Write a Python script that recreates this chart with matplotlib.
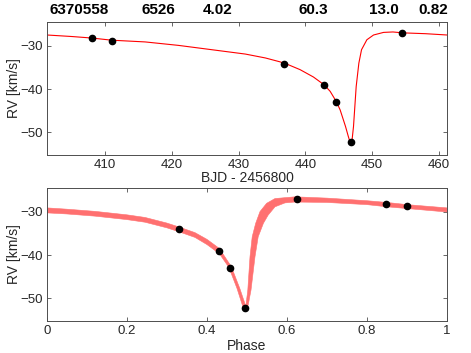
import matplotlib
matplotlib.use("Agg")
import matplotlib.pyplot as plt
import numpy as np

plt.rcParams['font.family'] = ['Liberation Sans', 'DejaVu Sans']

# fitted parameters printed above the top panel
param_labels = ["6370558", "6526", "4.02", "60.3", "13.0", "0.82"]
param_x = [79, 158, 218, 313, 384, 433]   # pixel centres

# observed radial velocities
obs_bjd = [408.0, 411.1, 436.8, 442.8, 444.6, 446.8, 454.5]
obs_rv = [-28.3, -28.8, -34.1, -39.1, -42.9, -52.3, -27.0]
obs_phase = [0.848, 0.899, 0.330, 0.431, 0.458, 0.495, 0.626]

# model curve
model_bjd = [401.3, 405.0, 408.0, 411.0, 416.0, 421.0, 426.0, 431.0, 434.0,
             436.2, 437.5, 439.2, 441.2, 442.8, 443.7, 444.6, 445.2, 446.0,
             446.4, 446.75, 447.0, 447.2, 447.4, 447.6, 448.0, 448.4, 449.2,
             450.2, 451.7, 453.1, 454.5, 458.0, 461.2]
model_rv = [-27.5, -27.85, -28.2, -28.7, -29.1, -29.9, -30.9, -31.9, -32.8,
            -33.7, -34.4, -35.5, -37.2, -39.0, -40.5, -42.8, -44.8, -48.6,
            -50.8, -52.6, -51.5, -48.6, -44.0, -39.4, -34.0, -30.9, -28.6,
            -27.5, -26.9, -26.8, -27.0, -27.2, -27.5]

# phased model envelope: upper and lower edges
upper_phase = [0.0, 0.05, 0.12, 0.2, 0.245, 0.3, 0.33, 0.37, 0.4, 0.431,
               0.461, 0.482, 0.497, 0.502, 0.5075, 0.513, 0.5217, 0.5325,
               0.549, 0.57, 0.62, 0.7, 0.8, 0.85, 0.9, 1.0]
upper_rv = [-29.15, -29.45, -29.95, -30.75, -31.35, -32.65, -33.55, -34.85,
            -36.4, -38.5, -42.7, -47.7, -51.8, -48.1, -40.4, -35.8, -32.7,
            -30.0, -28.1, -27.0, -26.6, -26.9, -27.5, -27.9, -28.4, -29.15]
lower_phase = [0.0, 0.05, 0.12, 0.2, 0.245, 0.3, 0.33, 0.37, 0.4, 0.431,
               0.455, 0.475, 0.49, 0.497, 0.503, 0.51, 0.52, 0.528, 0.541,
               0.553, 0.57, 0.595, 0.62, 0.7, 0.8, 0.85, 0.9, 1.0]
lower_rv = [-30.3, -30.55, -31.05, -31.85, -32.45, -33.75, -34.65, -35.95,
            -37.6, -39.7, -42.9, -47.7, -52.0, -52.9, -51.5, -48.1, -40.4,
            -35.8, -32.7, -30.8, -28.9, -28.0, -27.8, -27.9, -28.4, -28.9,
            -29.3, -30.1]

W, H = 471, 353
fig = plt.figure(figsize=(W / 100, H / 100), dpi=100)
ax1 = fig.add_axes([47 / W, 1 - 155 / H, 400 / W, 133 / H])
ax2 = fig.add_axes([47 / W, 1 - 321 / H, 400 / W, 133.3 / H])

dark = '#262626'
for ax in (ax1, ax2):
    ax.set_ylim(-55.2, -24.5)
    ax.set_yticks([-30, -40, -50])
    ax.tick_params(direction='in', top=True, right=True, length=3,
                   width=0.6, colors='0.3', labelcolor=dark, labelsize=9.5,
                   pad=3)
    for s in ax.spines.values():
        s.set_color('0.3')
        s.set_linewidth(0.7)
    ax.set_ylabel("RV [km/s]", fontsize=10, color=dark)
    ax.yaxis.set_label_coords(-0.066, 0.5)

# top panel: time series
ax1.plot(model_bjd, model_rv, color='red', lw=0.8, zorder=2)
ax1.plot(obs_bjd, obs_rv, 'o', color='black', ms=4.5, zorder=3)
ax1.set_xlim(401.3, 461.2)
ax1.set_xticks([410, 420, 430, 440, 450, 460])
ax1.set_xlabel("BJD - 2456800", fontsize=10, color=dark, labelpad=0)

# bottom panel: phase folded
env_x = np.concatenate([upper_phase, lower_phase[::-1]])
env_y = np.concatenate([upper_rv, lower_rv[::-1]])
ax2.fill(env_x, env_y, color='#ff7070', lw=0.4, zorder=2)
ax2.plot(obs_phase, obs_rv, 'o', color='black', ms=4.5, zorder=3)
ax2.set_xlim(0, 1)
ax2.set_xticks([0, 0.2, 0.4, 0.6, 0.8, 1])
ax2.set_xticklabels(["0", "0.2", "0.4", "0.6", "0.8", "1"])
ax2.set_xlabel("Phase", fontsize=10, color=dark, labelpad=1)

for lab, px in zip(param_labels, param_x):
    fig.text(px / W, 1 - 10 / H, lab, ha='center', va='center',
             fontsize=11, fontweight='bold', color='black')

fig.savefig("out.png", dpi=100)
